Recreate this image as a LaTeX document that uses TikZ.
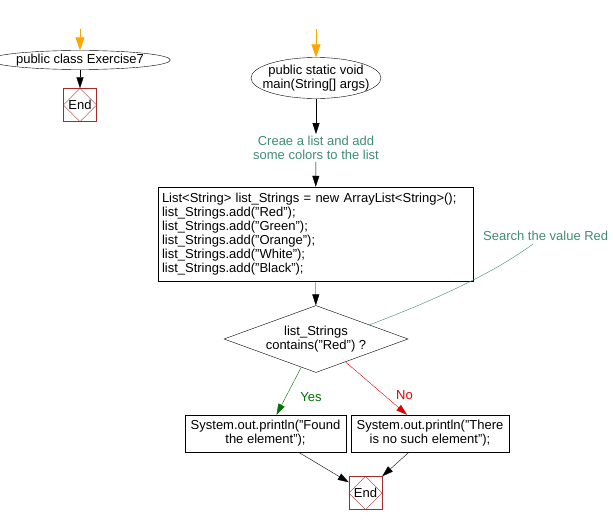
\documentclass[tikz,border=0pt]{standalone}
\usepackage{fontspec}
\setmainfont{Liberation Sans}
\usetikzlibrary{shapes.geometric,arrows.meta,calc,positioning}
\definecolor{startorange}{RGB}{255,165,0}
\definecolor{notegreen}{RGB}{64,140,112}
\definecolor{endred}{RGB}{165,42,42}
\definecolor{yesgreen}{RGB}{0,110,0}
\definecolor{nored}{RGB}{220,0,0}

\begin{document}
\begin{tikzpicture}[x=1pt, y=-1pt,
    font=\fontsize{13}{14}\selectfont,
    flow/.style={draw, -{Triangle[width=7pt,length=11pt]}},
    startflow/.style={draw=startorange, line width=1pt, -{Triangle[width=9pt,length=13pt]}, startorange},
    oval/.style={draw, ellipse, inner sep=0pt, align=center},
    endbox/.style={draw=endred, minimum size=33pt, inner sep=0pt},
    stepbox/.style={draw, rectangle, inner sep=4pt},
    note/.style={text=notegreen, align=center, inner sep=2pt}]
    \useasboundingbox (0,0) rectangle (613,524);

    % class header
    \coordinate (top1) at (80,29);
    \node[oval, minimum width=150pt, minimum height=19pt] (cls) at (80,60) {public class Exercise7};
    \node[endbox] (end1) at (80,105) {End};
    \draw[endred] (end1.north) -- (end1.east) -- (end1.south) -- (end1.west) -- cycle;
    \draw[startflow] (top1) -- (cls.north);
    \draw[flow] (cls) -- (end1);

    % main method
    \coordinate (top2) at (316,29);
    \node[oval, inner xsep=-10pt, inner ysep=-3pt, minimum width=130pt, minimum height=41pt] (main) at (316,78)
        {public static void\\main(String[] args)};
    \node[note] (mk) at (316,148) {Creae a list and add\\some colors to the list};
    \node[stepbox, text width=307pt, minimum height=94pt, align=left] (init) at (315.5,234)
        {List<String> list\_Strings = new ArrayList<String>();\\
         list\_Strings.add("Red");\\
         list\_Strings.add("Green");\\
         list\_Strings.add("Orange");\\
         list\_Strings.add("White");\\
         list\_Strings.add("Black");};
    \node[draw, diamond, aspect=2.75, minimum width=184pt, minimum height=67pt, inner sep=0pt, align=center]
        (dec) at (316,339) {list\_Strings\\contains("Red") ?};
    \node[stepbox, minimum width=161pt, minimum height=37pt, align=center] (found) at (265.5,433.5)
        {System.out.println("Found\\the element");};
    \node[stepbox, minimum width=158pt, minimum height=37pt, align=center] (nobox) at (430,433.5)
        {System.out.println("There\\is no such element");};
    \node[endbox] (end2) at (365.5,493) {End};
    \draw[endred] (end2.north) -- (end2.east) -- (end2.south) -- (end2.west) -- cycle;

    \draw[startflow] (top2) -- (main.north);
    \draw[flow] (main) -- (mk);
    \draw[flow] (mk) -- (init);
    \draw[flow] (init) -- (dec);

    % comment on the test
    \node[note, anchor=west] (srch) at (481,236) {Search the value Red};
    \coordinate (srchend) at (533,244);
    \coordinate (decpt) at ($(dec.north)!0.58!(dec.east)$);
    \draw[notegreen] (decpt) .. controls (440,298) and (495,272) .. (srchend);

    % branches
    \draw[flow, yesgreen] ($(dec.south)!0.16!(dec.west)$) -- ($(found.north)+(11,0)$)
        node[pos=0.62, right=11pt, text=yesgreen] {Yes};
    \draw[flow, nored] ($(dec.south)!0.32!(dec.east)$) -- ($(nobox.north)+(-23,0)$)
        node[pos=0.62, right=9pt, text=nored] {No};
    \draw[flow] ($(found.south)+(33,0)$) -- ($(end2.north west)+(0,6)$);
    \draw[flow] ($(nobox.south)+(-21,0)$) -- (end2.north east);
\end{tikzpicture}
\end{document}
